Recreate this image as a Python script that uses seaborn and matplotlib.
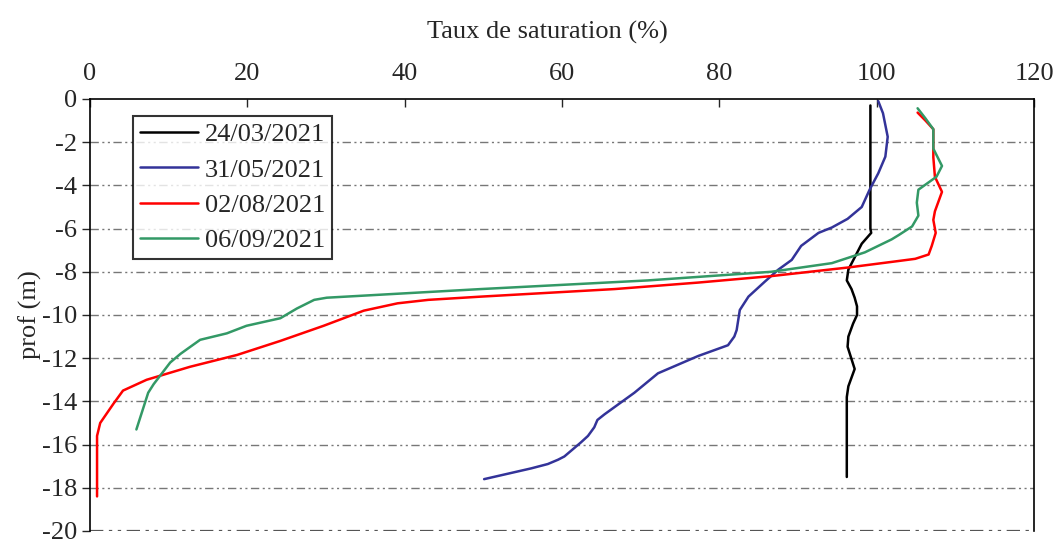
import pandas as pd
import matplotlib
matplotlib.use('Agg')
import matplotlib.pyplot as plt
import seaborn as sns

# saturation (%) vs depth (m) for each survey date
dates = ['24/03/2021', '31/05/2021', '02/08/2021', '06/09/2021']
colors = ['#000000', '#333399', '#ff0000', '#339966']

sat_0324 = [99.2, 99.2, 99.2, 99.3, 98.1, 96.4, 96.2, 96.8, 97.2, 97.5, 97.5, 97.0, 96.4, 96.3,
            97.2, 96.4, 96.2, 96.2, 96.2]
prof_0324 = [-0.3, -3.0, -6.0, -6.2, -6.7, -7.9, -8.4, -8.8, -9.2, -9.6, -10.0, -10.4, -11.0, -11.47,
             -12.5, -13.3, -13.8, -14.5, -17.5]

sat_0531 = [100.2, 100.8, 101.4, 101.1, 100.2, 99.1, 98.1, 96.3, 94.3, 92.6, 90.4, 89.2, 87.5, 85.8,
            83.7, 82.6, 82.2, 81.9, 81.1, 77.3, 72.2, 69.2, 65.4, 64.5, 64.1, 63.3, 62.4, 60.3, 59.5,
            58.2, 56.1, 50.1]
prof_0531 = [-0.1, -0.66, -1.75, -2.67, -3.44, -4.2, -5.0, -5.55, -5.95, -6.2, -6.8, -7.45, -7.9, -8.45,
             -9.15, -9.77, -10.7, -11.0, -11.4, -11.9, -12.7, -13.6, -14.6, -14.86, -15.2, -15.6, -15.9,
             -16.55, -16.7, -16.9, -17.1, -17.6]

sat_0802 = [105.2, 106.2, 107.2, 107.2, 107.4, 108.3, 107.4, 107.2, 107.5, 107.0, 106.6, 104.9, 102.8,
            96.4, 86.6, 77.3, 66.7, 49.7, 43.0, 39.1, 34.8, 29.7, 24.2, 18.7, 12.7, 7.2, 4.2, 3.0, 1.3,
            0.9, 0.9, 0.9]
prof_0802 = [-0.63, -1.0, -1.4, -2.7, -3.6, -4.3, -5.2, -5.6, -6.2, -6.8, -7.2, -7.4, -7.5, -7.8, -8.2,
             -8.5, -8.8, -9.15, -9.3, -9.46, -9.8, -10.5, -11.2, -11.85, -12.4, -13.0, -13.5, -14.1,
             -15.0, -15.6, -16.1, -18.4]

sat_0906 = [105.2, 106.2, 107.2, 107.2, 108.3, 107.6, 105.3, 105.1, 105.3, 104.5, 102.8, 101.9, 98.5,
            94.3, 86.6, 70.9, 49.7, 30.1, 28.5, 26.3, 24.2, 19.9, 17.4, 14.0, 11.5, 10.2, 8.1, 7.4, 5.9]
prof_0906 = [-0.43, -0.9, -1.4, -2.3, -3.1, -3.6, -4.2, -4.8, -5.4, -5.9, -6.3, -6.5, -7.1, -7.6, -8.0,
             -8.4, -8.8, -9.2, -9.3, -9.7, -10.15, -10.5, -10.85, -11.15, -11.8, -12.2, -13.2, -13.6, -15.3]

x_ticks = [0, 20, 40, 60, 80, 100, 120]
y_ticks = [0, -2, -4, -6, -8, -10, -12, -14, -16, -18, -20]

series = [(sat_0324, prof_0324), (sat_0531, prof_0531), (sat_0802, prof_0802), (sat_0906, prof_0906)]
frames = []
for d, (s, p) in zip(dates, series):
    frames.append(pd.DataFrame({'sat': s, 'prof': p, 'date': d}))
df = pd.concat(frames, ignore_index=True)

sns.set_style('white')
plt.rcParams['font.family'] = ['Liberation Serif', 'DejaVu Serif']
plt.rcParams['axes.unicode_minus'] = False
FS = 19

fig = plt.figure(figsize=(10.56, 5.4), dpi=100)
ax = fig.add_axes([0.0852, 0.0167, 0.8940, 0.8000])

sns.lineplot(data=df, x='sat', y='prof', hue='date', hue_order=dates,
             palette=dict(zip(dates, colors)), sort=False, estimator=None,
             units='date', linewidth=1.8, ax=ax)
for ln in ax.get_lines():
    ln.set_solid_joinstyle('round')

ax.set_xlim(0, 120)
ax.set_ylim(-20, 0)
ax.set_xticks(x_ticks)
ax.set_yticks(y_ticks)
ax.xaxis.tick_top()
ax.xaxis.set_label_position('top')
ax.set_xlabel('Taux de saturation (%)', fontsize=FS, labelpad=12)
ax.xaxis.set_label_coords(0.485, 1.14)
ax.set_ylabel('prof (m)', fontsize=FS, labelpad=0)
ax.tick_params(axis='x', direction='in', length=6, width=1, labelsize=FS, pad=10, top=True)
ax.tick_params(axis='y', direction='out', length=6, width=1, labelsize=FS, pad=3, left=True)

for sp in ['top', 'left', 'right']:
    ax.spines[sp].set_color('black')
    ax.spines[sp].set_linewidth(1.2)
ax.spines['bottom'].set_visible(False)

ax.grid(False)
for yv in y_ticks[1:]:
    ax.axhline(yv, color='#555555' if yv == -20 else '#777777', linewidth=1.0 if yv != -20 else 1.6,
               dashes=(6, 2.5, 1.5, 2.5, 1.5, 2.5), zorder=0)

leg = ax.legend(loc='upper left', bbox_to_anchor=(0.046, 0.96), frameon=True, fancybox=False,
                fontsize=FS, handlelength=2.2, handletextpad=0.25, borderpad=0.25, labelspacing=0.45,
                borderaxespad=0)
leg.get_frame().set_edgecolor('black')
leg.get_frame().set_linewidth(1.5)
for line in leg.get_lines():
    line.set_linewidth(1.8)

fig.savefig('out.png', dpi=100)
